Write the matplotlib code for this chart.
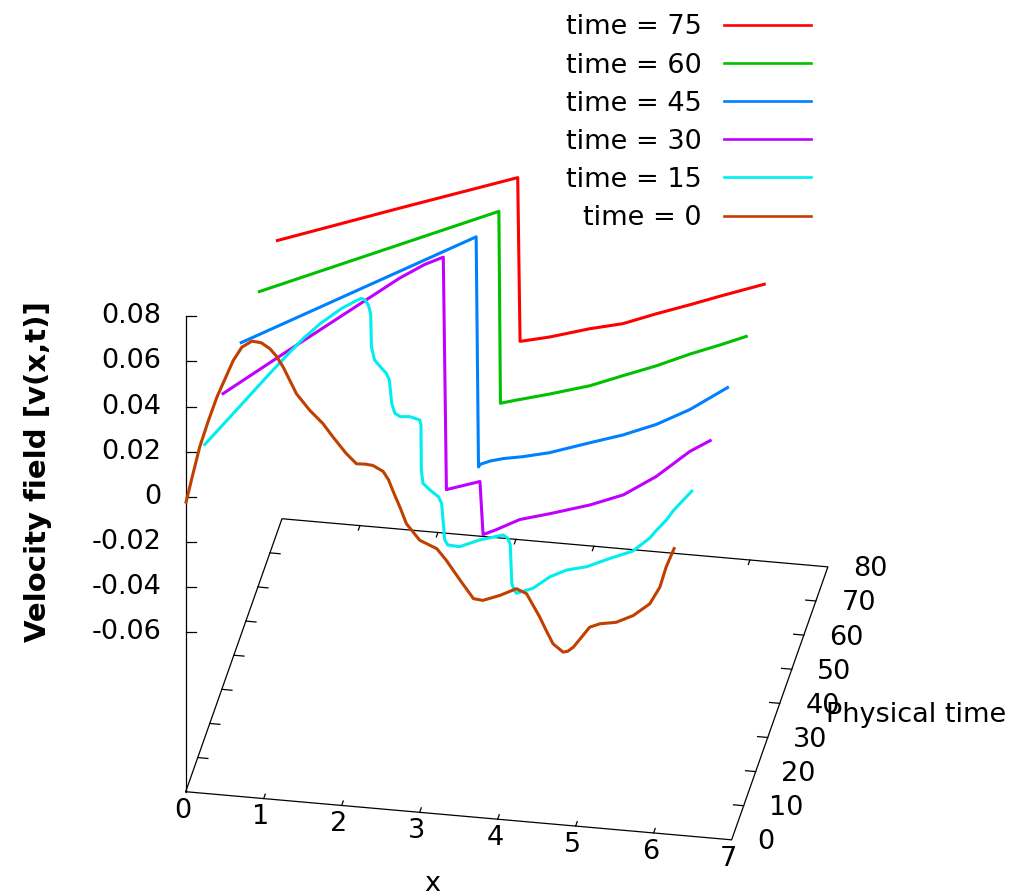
import numpy as np
import matplotlib
matplotlib.use("Agg")
import matplotlib.pyplot as plt
from matplotlib.lines import Line2D

plt.rcParams['font.family'] = ['DejaVu Sans']
plt.rcParams['axes3d.automargin'] = False

# ---------------- data ----------------
TIMES = [75, 60, 45, 30, 15, 0]
COLORS = ['#ff0000', '#00c000', '#0080ff', '#c000ff', '#00eeee', '#c04000']
LABELS = ['time = 75', 'time = 60', 'time = 45', 'time = 30', 'time = 15', 'time = 0']

X75 = [0.00, 1.59, 3.10, 3.13, 3.51, 4.02, 4.45, 4.88, 5.31, 5.73, 6.28]
V75 = [0.000, 0.0194, 0.0375, -0.0350, -0.0319, -0.0267, -0.0231, -0.0174, -0.0121, -0.0067, 0.0001]

X60 = [0.00, 3.09, 3.11, 3.27, 3.74, 4.26, 4.68, 5.11, 5.54, 5.96, 6.28]
V60 = [0.000, 0.0452, -0.0398, -0.0382, -0.0338, -0.0285, -0.0228, -0.0171, -0.0106, -0.0049, -0.0003]

X45 = [0.00, 3.03, 3.06, 3.08, 3.21, 3.38, 3.63, 3.97, 4.49, 4.91, 5.34, 5.77, 6.27]
V45 = [0.000, 0.0564, -0.0455, -0.0443, -0.0424, -0.0408, -0.0392, -0.0364, -0.0304, -0.0257, -0.0197, -0.0118, -0.0002]

X30 = [0.00, 0.87, 2.28, 2.60, 2.84, 2.88, 3.31, 3.35, 3.52, 3.82, 4.21, 4.72, 5.15, 5.57, 6.00, 6.28]
V30 = [0.000, 0.0225, 0.0585, 0.0655, 0.0695, -0.0334, -0.0285, -0.0519, -0.0492, -0.0438, -0.0400, -0.0346,
       -0.0288, -0.0194, -0.0070, -0.0010]

X15 = [0.00, 0.42, 0.85, 1.11, 1.28, 1.49, 1.76, 1.96, 2.02, 2.07, 2.11, 2.14, 2.15, 2.19, 2.26, 2.34,
       2.38, 2.41, 2.45, 2.52, 2.64, 2.77, 2.785, 2.79, 2.81, 2.90, 3.01, 3.05, 3.09, 3.13, 3.28, 3.54,
       3.84, 3.90, 3.93, 3.95, 3.98, 4.01, 4.22, 4.44, 4.65, 4.91, 5.21, 5.50, 5.72, 5.80, 5.93, 6.02, 6.27]
V15 = [0.000, 0.0171, 0.0347, 0.0450, 0.0515, 0.0585, 0.0660, 0.0703, 0.0714, 0.0708, 0.0687, 0.0651,
       0.0504, 0.0446, 0.0420, 0.0392, 0.0363, 0.0261, 0.0218, 0.0205, 0.0209, 0.0198, 0.0175, -0.0023,
       -0.0081, -0.0108, -0.0135, -0.0163, -0.0324, -0.0345, -0.0348, -0.0310, -0.0279, -0.0292, -0.0320,
       -0.0490, -0.0520, -0.0532, -0.0504, -0.0446, -0.0410, -0.0387, -0.0341, -0.0300, -0.0235, -0.0200,
       -0.0150, -0.0105, -0.0006]

X0 = [0.00, 0.09, 0.18, 0.29, 0.40, 0.61, 0.72, 0.85, 0.97, 1.08, 1.16, 1.25, 1.42, 1.59, 1.76, 1.89,
      2.06, 2.19, 2.30, 2.40, 2.53, 2.60, 2.66, 2.75, 2.83, 3.00, 3.22, 3.34, 3.52, 3.69, 3.81, 4.03,
      4.24, 4.37, 4.54, 4.62, 4.71, 4.84, 4.90, 4.97, 5.07, 5.18, 5.31, 5.52, 5.74, 5.95, 6.08, 6.16, 6.27]
V0 = [-0.0030, 0.0100, 0.0227, 0.0345, 0.0454, 0.0623, 0.0685, 0.0716, 0.0712, 0.0689, 0.0660, 0.0613,
      0.0500, 0.0432, 0.0378, 0.0322, 0.0254, 0.0213, 0.0215, 0.0212, 0.0190, 0.0155, 0.0105, 0.0035,
      -0.0033, -0.0101, -0.0132, -0.0179, -0.0263, -0.0339, -0.0343, -0.0314, -0.0278, -0.0296, -0.0395,
      -0.0450, -0.0508, -0.0541, -0.0535, -0.0515, -0.0470, -0.0420, -0.0401, -0.0388, -0.0351, -0.0293,
      -0.0215, -0.0124, -0.0032]

SERIES_X = [X75, X60, X45, X30, X15, X0]
SERIES_V = [V75, V60, V45, V30, V15, V0]

X_TICKS = [0, 1, 2, 3, 4, 5, 6, 7]
T_TICKS = [0, 10, 20, 30, 40, 50, 60, 70, 80]
Z_TICKS = [-0.06, -0.04, -0.02, 0.0, 0.02, 0.04, 0.06, 0.08]
Z_TICK_LABELS = ['-0.06', '-0.04', '-0.02', '0', '0.02', '0.04', '0.06', '0.08']

# ---------------- layout ----------------
W, H = 1018, 896
FS = 19.5
ZB, ZT = -0.1307, 0.08
ASPECT = (554.7, 554.7, 549.3)
S = 1150

fig = plt.figure(figsize=(W / 100, H / 100), dpi=100)
ax = fig.add_axes([-83 / W, -136 / H, S / W, S / H], projection='3d',
                  proj_type='ortho', computed_zorder=False)
ax.set_axis_off()
ax.view_init(elev=30, azim=-80)
zoom = 1.0
ax.set_box_aspect(ASPECT, zoom=zoom)

BK = dict(color='black', lw=0.9, clip_on=False, zorder=1)
# base plane border
ax.plot([0, 7, 7, 0, 0], [0, 0, 80, 80, 0], [ZB] * 5, **BK)
# vertical z axis
ax.plot([0, 0], [0, 0], [ZB, ZT], **BK)
# z ticks (horizontal on screen)
zdx = 10 / 80.47
for z in Z_TICKS:
    ax.plot([0, zdx], [0, 2.015 * zdx], [z, z], **BK)
# x ticks (front + mirror on back)
for x in X_TICKS[1:-1]:
    ax.plot([x, x], [0, 1.3], [ZB, ZB], **BK)
    ax.plot([x, x], [80, 78.7], [ZB, ZB], **BK)
# t ticks (right + mirror on left)
for t in T_TICKS[1:-1]:
    ax.plot([7, 6.87], [t, t], [ZB, ZB], **BK)
    ax.plot([0, 0.13], [t, t], [ZB, ZB], **BK)

# curves (time 75 first, time 0 last -> on top)
for i, (t, xs, vs, c) in enumerate(zip(TIMES, SERIES_X, SERIES_V, COLORS)):
    ax.plot(xs, [t] * len(xs), vs, color=c, lw=2.2, clip_on=False, zorder=5 + i,
            solid_joinstyle='round', solid_capstyle='butt')

ax.set_xlim(0, 7)
ax.set_ylim(0, 80)
ax.set_zlim(ZB, ZT)

# legend (gnuplot style: text right-aligned, sample to the right)
LEG_Y = [25, 63.3, 101.2, 139.3, 177.4, 215.6]
for y, c, lab in zip(LEG_Y, COLORS, LABELS):
    fig.text(701.5 / W, 1 - (y + 2.4) / H, lab, ha='right', va='center', fontsize=FS)
    fig.add_artist(Line2D([724 / W, 811 / W], [1 - y / H] * 2, transform=fig.transFigure,
                          color=c, lw=1.9))

# axis labels
fig.text(38 / W, 1 - 472 / H, 'Velocity field [v(x,t)]', rotation=90, ha='center', va='center',
         fontsize=21, fontweight='bold')
fig.text(432 / W, 1 - 884 / H, 'x', ha='center', va='center', fontsize=FS)
fig.text(826 / W, 1 - 715 / H, 'Physical time', ha='left', va='center', fontsize=FS)


# ---------------- calibrate projection to the reference frame ----------------
def to_px(x, y, z):
    M = ax.get_proj()
    v = M @ np.array([x, y, z, 1.0])
    return ax.transData.transform([v[0] / v[3], v[1] / v[3]])


P0 = np.array([185.7, H - 791.7])
P1 = np.array([731.7, H - 839.0])
for _ in range(2):
    fig.canvas.draw()
    d0, d1 = to_px(0, 0, ZB), to_px(7, 0, ZB)
    zoom *= np.linalg.norm(P1 - P0) / np.linalg.norm(d1 - d0)
    ax.set_box_aspect(ASPECT, zoom=zoom)
    fig.canvas.draw()
    d0 = to_px(0, 0, ZB)
    sh = P0 - d0
    pos = ax.get_position()
    ax.set_position([pos.x0 + sh[0] / W, pos.y0 + sh[1] / H, pos.width, pos.height])

fig.canvas.draw()


# tick labels placed at the projected tick positions (2D figure text)
def label_at(x, y, z, s, dx, dy, **kw):
    p = to_px(x, y, z)
    fig.text((p[0] + dx) / W, (p[1] + dy) / H, s, fontsize=FS, **kw)


for x in X_TICKS:
    label_at(x, 0, ZB, str(x), -2.7, -18.9, ha='center', va='center')
for t in T_TICKS:
    label_at(7, t, ZB, str(t), 25.5, -2.4, ha='left', va='center')
for z, lab in zip(Z_TICKS, Z_TICK_LABELS):
    label_at(0, 0, z, lab, -24, 0, ha='right', va='center')

fig.savefig('out.png', dpi=100)
